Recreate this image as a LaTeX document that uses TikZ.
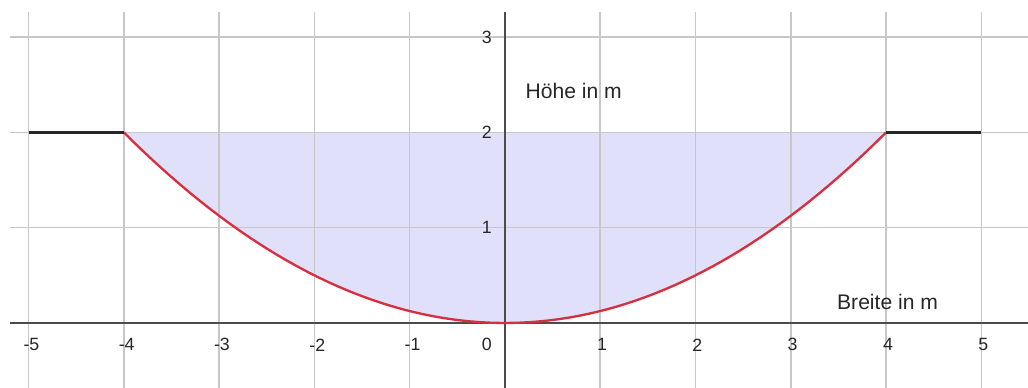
\documentclass[tikz,border=0pt]{standalone}
\usepackage{fontspec}
\setmainfont{Liberation Sans}
\usepackage{tikz}
\usetikzlibrary{positioning}
\definecolor{flaeche}{RGB}{224,224,250}
\definecolor{kurve}{RGB}{214,48,64}

\begin{document}
\begin{tikzpicture}[
		gitter/.style={draw=black!22,line width=0.45pt},
		achse/.style={draw=black!70,line width=0.6pt},
		zahl/.style={font=\fontsize{5.3}{6}\selectfont,text=black!85,inner sep=0pt},
		titel/.style={font=\fontsize{6.3}{7.5}\selectfont,text=black!85,inner sep=0pt,anchor=west},
		rand/.style={draw=black!85,line width=0.9pt}
		]
		
		\useasboundingbox (-5.30,-0.68) rectangle (5.49,3.39);
		
		% Wasserflaeche
		\fill [flaeche] (-4,2) -- plot [domain=-4:4,samples=80] (\x,{\x*\x/8}) -- cycle;
		
		% Gitter
		\foreach \i in {-5,...,5}
			\draw [gitter] (\i,-0.68) -- (\i,3.26);
		\foreach \j in {1,2,3}
			\draw [gitter] (-5.19,\j) -- (5.49,\j);
		
		% Achsen
		\draw [achse] (-5.19,0) -- (5.49,0);
		\draw [achse] (0,-0.68) -- (0,3.26);
		
		% Profil
		\draw [kurve,line width=0.7pt] plot [domain=-4:4,samples=80] (\x,{\x*\x/8});
		\coordinate (links) at (-4,2);
		\coordinate (rechts) at (4,2);
		\coordinate (links aussen) at (-5,2);
		\coordinate (rechts aussen) at (5,2);
		\draw [rand] (links aussen) -- (links);
		\draw [rand] (rechts) -- (rechts aussen);
		
		% Beschriftung
		\foreach \i in {-5,-4,-3,-2,-1}
			\node [zahl] (x\i) at (\i+0.03,-0.23) {\i};
		\foreach \i in {1,...,5}
			\node [zahl] (x\i) at (\i+0.02,-0.23) {\i};
		\node [zahl] (x0) at (-0.19,-0.23) {0};
		\foreach \j in {1,2,3}
			\node [zahl] (y\j) at (-0.19,\j) {\j};
		
		\node [titel] (hoehe) at (0.21,2.44) {Höhe in m};
		\node [titel] (breite) at (3.48,0.22) {Breite in m};
		
	\end{tikzpicture}
\end{document}
